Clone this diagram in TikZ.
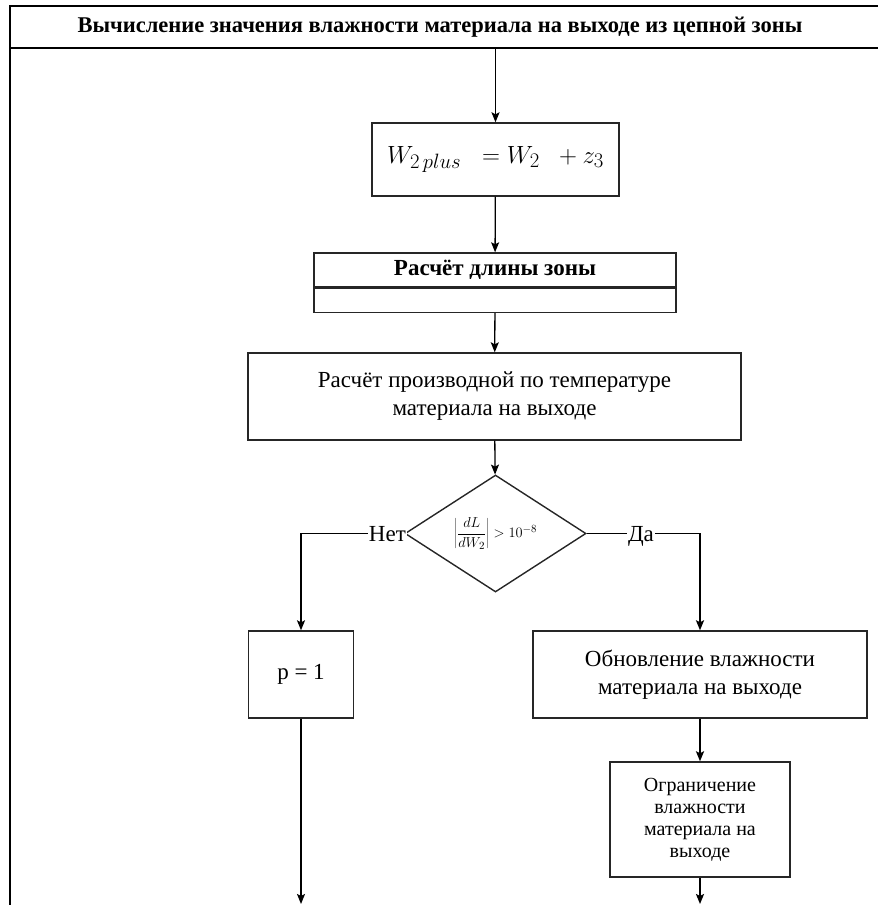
\documentclass[tikz,border=0pt]{standalone}
\usepackage{fontspec}
\setmainfont{Liberation Serif}
\usetikzlibrary{shapes.geometric,arrows.meta}

\begin{document}
\begin{tikzpicture}[x=1pt,y=-1pt,
    blok/.style={draw=black!85,line width=1.4pt,align=center,inner sep=2pt,
      font=\fontsize{23}{28}\selectfont},
    kecil/.style={blok,font=\fontsize{20}{22}\selectfont},
    label/.style={fill=white,inner sep=1pt,font=\fontsize{23}{26}\selectfont},
    pn/.style={-{Stealth[length=10pt,width=8pt,inset=2pt]},line width=1.3pt},
    pntebal/.style={pn,line width=1.9pt}]
  \useasboundingbox (0,0) rectangle (878,905);

  % Bingkai dan judul
  \draw[line width=1.4pt] (878,6) -- (10,6) -- (10,905);
  \draw[line width=1.4pt] (10,48) -- (878,48);
  \node[font=\bfseries\fontsize{22.5}{26}\selectfont] (judul) at (440,27)
    {Вычисление значения влажности материала на выходе из цепной зоны};

  % Kolom utama
  \coordinate (mulai) at (495.5,48);
  \node[blok,minimum width=247pt,minimum height=73pt,
    font=\fontsize{30}{32}\selectfont] (rumus) at (495.5,159.5)
    {$W_{2\,plus}\;\;=W_2\;\;+z_3$};
  \node[blok,minimum width=362pt,minimum height=34pt,
    font=\bfseries\fontsize{23}{26}\selectfont] (zona) at (495,270)
    {Расчёт длины зоны};
  \node[blok,minimum width=362pt,minimum height=24pt,anchor=north]
    (zonab) at (zona.south) {};
  \node[blok,minimum width=493pt,minimum height=87pt] (turunan) at (494.5,396.5)
    {Расчёт производной по температуре\\материала на выходе};
  \node[draw=black!85,line width=1.4pt,diamond,aspect=1.55,inner sep=0pt,
    minimum width=181pt,minimum height=117pt,
    font=\fontsize{15}{18}\selectfont] (syarat) at (495.5,533.5)
    {$\left|{\displaystyle\frac{dL}{dW_2}}\right| > 10^{-8}$};

  % Cabang kiri dan kanan
  \node[blok,minimum width=105pt,minimum height=87pt] (p1) at (301,674.5)
    {p = 1};
  \node[blok,minimum width=334pt,minimum height=87pt] (baru) at (700,674.5)
    {Обновление влажности\\материала на выходе};
  \node[kecil,minimum width=180pt,minimum height=115pt] (batas) at (700,819.5)
    {Ограничение\\влажности\\материала на\\выходе};
  \coordinate (ujungkiri) at (301,904);
  \coordinate (ujungkanan) at (700,904);

  % Panah
  \draw[pn] (mulai) -- (rumus);
  \draw[pn] (rumus) -- (zona);
  \draw[pn] (zonab) -- (turunan);
  \draw[pn] (turunan) -- (syarat);
  \draw[pn] (syarat.west) -| (p1.north);
  \draw[pntebal] (syarat.east) -| (baru.north);
  \draw[pntebal] (baru) -- (batas);
  \draw[pn] (p1) -- (ujungkiri);
  \draw[pntebal] (batas) -- (ujungkanan);

  % Label cabang
  \node[label,anchor=east] (tidak) at (407,534) {Нет};
  \node[label] (ya) at (641,536) {Да};
\end{tikzpicture}
\end{document}
